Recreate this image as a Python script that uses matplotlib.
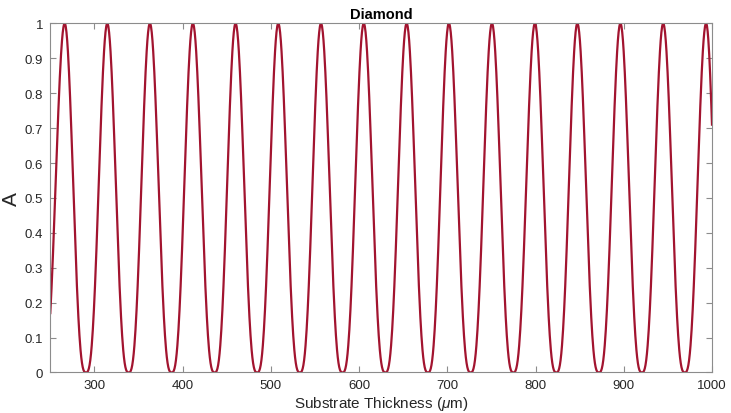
import numpy as np
import matplotlib
matplotlib.use("Agg")
import matplotlib.pyplot as plt

plt.rcParams["font.family"] = ["Liberation Sans", "DejaVu Sans"]
plt.rcParams["mathtext.fontset"] = "custom"
plt.rcParams["mathtext.rm"] = "Liberation Sans"
plt.rcParams["mathtext.it"] = "Liberation Sans:italic"

# values (thickness in um)
peak_x = [266.3, 314.6, 362.9, 411.6, 460.0, 508.4, 556.8, 605.3, 653.9,
          701.8, 750.6, 799.3, 847.4, 896.2, 944.7, 993.3]
trough_x = [290.4, 338.8, 387.5, 436.2, 484.4, 532.8, 581.2, 629.7, 678.0,
            726.4, 774.8, 823.5, 871.8, 920.5, 969.1]
peak_y = 1.0
trough_y = 0.0
start = (250, 0.17)
end = (1000, 0.71)

SHARP = 1.45  # peaks come out a bit narrower than the troughs


def shape(u):
    # u = 0 at a peak, 1 at a trough
    return ((1 + np.cos(np.pi * u)) / 2) ** SHARP


def u_of(y):
    s = ((y - trough_y) / (peak_y - trough_y)) ** (1 / SHARP)
    return np.arccos(2 * s - 1) / np.pi


def segment(x0, x1, u0, u1, n=60):
    xs = np.linspace(x0, x1, n)
    us = np.linspace(u0, u1, n)
    return xs, trough_y + (peak_y - trough_y) * shape(us)


# stitch the half waves together between the read extrema
xs_all, ys_all = [], []
x, y = segment(start[0], peak_x[0], u_of(start[1]), 0.0)
xs_all.append(x)
ys_all.append(y)
for i, tx in enumerate(trough_x):
    x, y = segment(peak_x[i], tx, 0.0, 1.0)
    xs_all.append(x)
    ys_all.append(y)
    x, y = segment(tx, peak_x[i + 1], 1.0, 0.0)
    xs_all.append(x)
    ys_all.append(y)
x, y = segment(peak_x[-1], end[0], 0.0, u_of(end[1]), 20)
xs_all.append(x)
ys_all.append(y)
thick = np.concatenate(xs_all)
absorb = np.concatenate(ys_all)

fig = plt.figure(figsize=(7.31, 4.14), dpi=100)
ax = fig.add_axes([0.0688, 0.098, 0.9052, 0.843])
ax.plot(thick, absorb, color="#A2142F", linewidth=1.6)

ax.set_xlim(250, 1000)
ax.set_ylim(0, 1)
ax.set_xticks(np.arange(300, 1001, 100))
ax.set_yticks(np.arange(0, 1.01, 0.1))
ax.set_yticklabels(["0", "0.1", "0.2", "0.3", "0.4", "0.5", "0.6", "0.7",
                    "0.8", "0.9", "1"])
ax.tick_params(direction="in", length=4, width=0.8, colors="#8c8c8c",
               labelcolor="#262626", labelsize=9.5, top=True, right=True,
               pad=5)
for sp in ax.spines.values():
    sp.set_color("#8c8c8c")
    sp.set_linewidth(0.8)

ax.set_title("Diamond", fontsize=10.5, fontweight="bold", color="black",
             pad=4)
ax.set_xlabel(r"Substrate Thickness ($\mu$m)", fontsize=11,
              color="#262626", labelpad=2)
ax.set_ylabel("A", fontsize=15, color="#262626")
ax.yaxis.set_label_coords(-0.045, 0.5)

fig.savefig("out.png", dpi=100)
